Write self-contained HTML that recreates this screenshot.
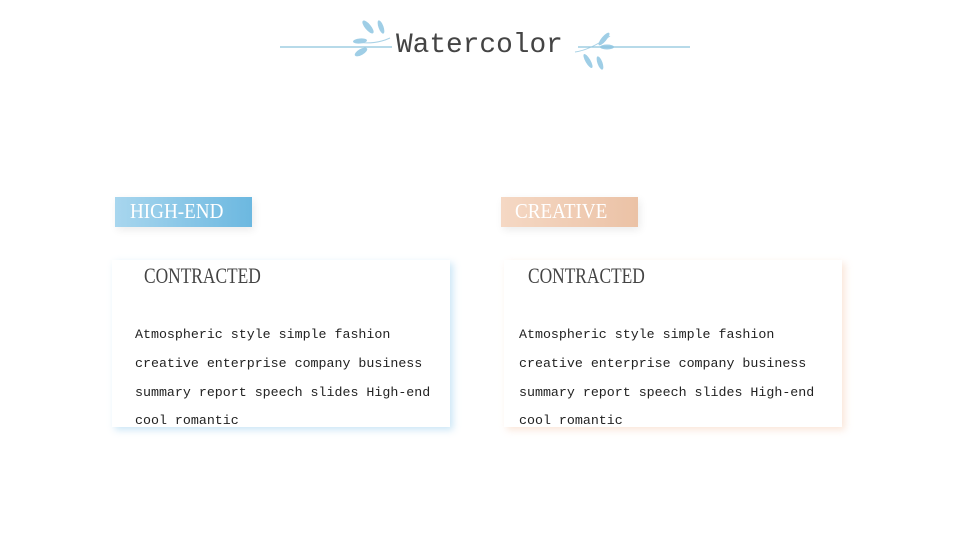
<!DOCTYPE html>
<html><head><meta charset="utf-8"><style>
body{margin:0;width:960px;height:540px;background:#fff;position:relative;overflow:hidden;font-family:"Liberation Mono",monospace}
.abs{position:absolute}
.title{left:396px;top:28px;font-size:27.8px;color:#444;font-family:"Liberation Mono",monospace;line-height:36px}
.tag{height:30px;width:137px;top:197px;box-shadow:2px 3px 8px rgba(0,0,0,0.08)}
.tagt{top:198px;color:#fff;font-family:"Liberation Serif",serif;font-size:21px;transform:scaleX(0.91);transform-origin:left;line-height:26px}
.card{top:260px;width:338px;height:167px;background:#fff}
.h{top:262px;font-family:"Liberation Serif",serif;font-size:22px;color:#444;transform:scaleX(0.79);transform-origin:left;line-height:28px}
.p{top:321px;font-size:13.3px;line-height:28.8px;color:#222;white-space:pre}
</style></head><body>
<svg class="abs" style="left:0;top:0" width="960" height="90">
<line x1="280" y1="47" x2="392" y2="47" stroke="#8cc3dc" stroke-width="1.2"/>
<line x1="578" y1="47" x2="690" y2="47" stroke="#8cc3dc" stroke-width="1.2"/>
<g fill="#8fc6e2" opacity="0.85">
<path d="M355 42 Q375 45 390 38" stroke="#9ccbe2" fill="none"/>
<ellipse cx="368" cy="27" rx="8" ry="3" transform="rotate(50 368 27)"/>
<ellipse cx="381" cy="27" rx="7" ry="2.5" transform="rotate(70 381 27)"/>
<ellipse cx="360" cy="41" rx="7" ry="2.5" transform="rotate(-5 360 41)"/>
<ellipse cx="361" cy="52" rx="7" ry="3" transform="rotate(-30 361 52)"/>
<path d="M575 52 Q590 50 610 36" stroke="#9ccbe2" fill="none"/>
<ellipse cx="604" cy="39" rx="8" ry="2.5" transform="rotate(-50 604 39)"/>
<ellipse cx="607" cy="47" rx="7" ry="2.5" transform="rotate(0 607 47)"/>
<ellipse cx="588" cy="61" rx="8" ry="2.5" transform="rotate(60 588 61)"/>
<ellipse cx="600" cy="63" rx="7" ry="2.5" transform="rotate(70 600 63)"/>
</g>
<line x1="252" y1="211.5" x2="456" y2="211.5" stroke="#7fc0d8" stroke-width="2"/>
<line x1="638" y1="211.5" x2="842" y2="211.5" stroke="#f0c4a8" stroke-width="2"/>
</svg>
<div class="abs title">Watercolor</div>
<div class="abs tag" style="left:115px;background:linear-gradient(90deg,#a8d6ee,#6cb8e0)"></div>
<div class="abs tagt" style="left:130px">HIGH-END</div>
<div class="abs tag" style="left:501px;background:linear-gradient(90deg,#f5d8c4,#ebc2a6)"></div>
<div class="abs tagt" style="left:515px">CREATIVE</div>
<div class="abs card" style="left:112px;box-shadow:3px 3px 7px rgba(140,200,235,0.45)"></div>
<div class="abs card" style="left:504px;box-shadow:3px 3px 7px rgba(245,200,170,0.45)"></div>
<div class="abs h" style="left:144px">CONTRACTED</div>
<div class="abs h" style="left:528px">CONTRACTED</div>
<div class="abs p" style="left:135px">Atmospheric style simple fashion
creative enterprise company business
summary report speech slides High-end
cool romantic</div>
<div class="abs p" style="left:519px">Atmospheric style simple fashion
creative enterprise company business
summary report speech slides High-end
cool romantic</div>
</body></html>
